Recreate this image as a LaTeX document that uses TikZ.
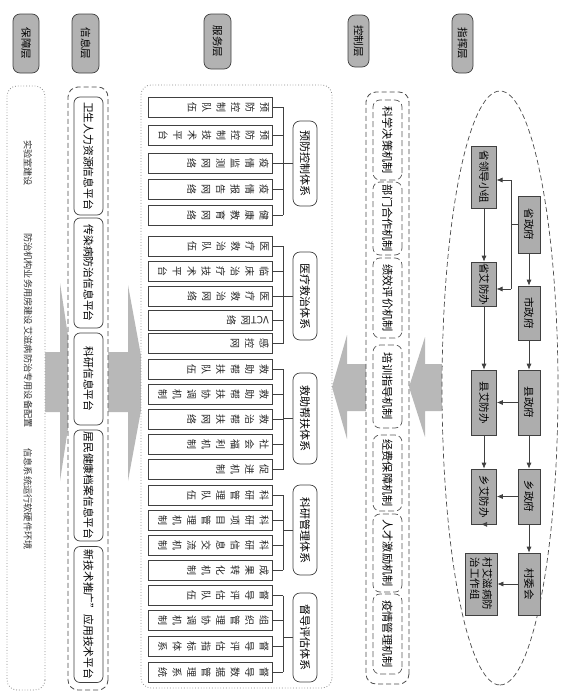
\documentclass[tikz,border=0pt]{standalone}
\usepackage{fontspec}
\setmainfont{Noto Sans CJK SC}
\usepackage{graphicx}
\usetikzlibrary{arrows.meta,shapes.geometric}
\begin{document}
\begin{tikzpicture}[x=1pt,y=1pt,
  hdr/.style={draw=black!75, fill=black!30, rounded corners=7pt, line width=0.7pt, inner sep=0pt, font=\fontsize{10.5}{12}\selectfont},
  bigarrow/.style={fill=black!28, draw=none},
  dotbox/.style={draw=black!45, dotted, line width=0.8pt, fill=white, rounded corners=10pt, inner sep=0pt},
  dashbox/.style={draw=black!70, dash pattern=on 5pt off 3pt, line width=0.8pt, fill=white, rounded corners=10pt, inner sep=0pt},
  cellipse/.style={ellipse, draw=black!70, dash pattern=on 5pt off 3pt, line width=0.7pt, fill=white, inner sep=0pt},
  gtext/.style={font=\fontsize{9.2}{11}\selectfont, text=black!80, inner sep=0pt},
  ibox/.style={draw=black!75, line width=0.7pt, rounded corners=6pt, fill=white, inner sep=0pt, minimum height=29, font=\fontsize{10.8}{12}\selectfont},
  leaf/.style={draw=black!75, line width=0.7pt, fill=white, minimum width=20, minimum height=124, inner sep=0pt},
  leaftext/.style={align=center, inner sep=0pt, font=\fontsize{10}{14.5}\selectfont, text=black!85},
  pill/.style={draw=black!75, line width=0.7pt, rounded corners=7pt, fill=white, minimum height=24, inner sep=0pt, font=\fontsize{11}{12}\selectfont},
  conn/.style={draw=black!75, line width=0.7pt},
  cbox/.style={draw=black!65, dash pattern=on 6pt off 3pt, line width=0.7pt, rounded corners=7pt, fill=white, minimum height=29, inner sep=0pt, font=\fontsize{11.2}{12}\selectfont},
  cmd/.style={draw=black!75, fill=black!32, line width=0.7pt, inner sep=1pt, font=\fontsize{10.5}{12}\selectfont},
  arr/.style={draw=black!75, line width=0.7pt, -{Latex[length=6pt,width=5pt]}},
  lin/.style={draw=black!75, line width=0.7pt}
]
\begin{scope}[rotate=-90, transform shape]
\useasboundingbox (0,0) rectangle (696,566);

% headers
\node[hdr, minimum width=59, minimum height=26] (h1) at (43.5,26) {保障层};
\node[hdr, minimum width=59, minimum height=27] (h2) at (43.5,85.5) {信息层};
\node[hdr, minimum width=55, minimum height=27] (h3) at (41.5,217.5) {服务层};
\node[hdr, minimum width=52, minimum height=21] (h4) at (41,358.5) {控制层};
\node[hdr, minimum width=59, minimum height=21] (h5) at (43.5,462.5) {指挥层};

% big arrows
\fill[bigarrow] (352,45) -- (352,60) -- (283,60) -- (382,75) -- (481,60) -- (412,60) -- (412,45) -- cycle;
\fill[bigarrow] (352,100) -- (352,128) -- (285,128) -- (383,146) -- (481,128) -- (412,128) -- (412,100) -- cycle;
\fill[bigarrow] (364,372) -- (364,347) -- (335,347) -- (387,332) -- (439,347) -- (411,347) -- (411,372) -- cycle;
\fill[bigarrow] (364,450) -- (364,425) -- (337,425) -- (387,409) -- (437,425) -- (411,425) -- (411,450) -- cycle;

% containers
\node[dotbox, minimum width=604, minimum height=38] (gb) at (388,26) {};
\node[dashbox, minimum width=603, minimum height=40] (ib) at (388.5,88) {};
\node[dotbox, minimum width=603, minimum height=191] (sb) at (386.5,236.5) {};
\node[dashbox, minimum width=592, minimum height=43] (cb) at (388,387.5) {};
\node[cellipse, minimum width=594, minimum height=116] (eb) at (388,500) {};

% guarantee layer texts
\node[gtext] (g1) at (163,28) {实验室建设};
\node[gtext] (g2) at (279,28) {防治机构业务用房建设};
\node[gtext] (g3) at (377,28) {艾滋病防治专用设备配置};
\node[gtext] (g4) at (499,28) {信息系统运行软硬件环境};

% information layer
\node[ibox, minimum width=118] (i1) at (156,88.5) {卫生人力资源信息平台};
\node[ibox, minimum width=110] (i2) at (273,88.5) {传染病防治信息平台};
\node[ibox, minimum width=92] (i3) at (379,88.5) {科研信息平台};
\node[ibox, minimum width=111] (i4) at (485.5,88.5) {居民健康档案信息平台};
\node[ibox, minimum width=136] (i5) at (614.5,88.5) {新技术推广”应用技术平台};

% service layer leaves
\foreach \n/\x/\t in {
 l1/107/{预\\防\\控\\制\\队\\伍},
 l2/135/{预\\防\\控\\制\\技\\术\\平\\台},
 l3/163/{疫\\情\\监\\测\\网\\络},
 l4/189/{疫\\情\\报\\告\\网\\络},
 l5/215/{健\\康\\教\\育\\网\\络},
 l6/246/{医\\疗\\救\\治\\队\\伍},
 l7/271/{临\\床\\治\\疗\\技\\术\\平\\台},
 l8/296/{医\\疗\\救\\治\\网\\络},
 l9/320/{\rotatebox{-90}{VCT}\\网\\络},
 l10/343.5/{感\\控\\网},
 l11/369/{救\\助\\帮\\扶\\队\\伍},
 l12/394.5/{救\\助\\帮\\扶\\协\\调\\机\\制},
 l13/419.5/{救\\治\\帮\\扶\\网\\络},
 l14/444/{社\\会\\福\\利\\机\\制},
 l15/469.5/{促\\进\\机\\制},
 l16/495/{科\\研\\管\\理\\队\\伍},
 l17/520/{科\\研\\项\\目\\管\\理\\机\\制},
 l18/545/{科\\研\\信\\息\\交\\流\\机\\制},
 l19/570/{成\\果\\转\\化\\机\\制},
 l20/595.5/{督\\导\\评\\估\\队\\伍},
 l21/620.5/{组\\织\\管\\理\\协\\调\\机\\制},
 l22/646/{督\\导\\评\\估\\指\\标\\体\\系},
 l23/672/{督\\导\\数\\据\\管\\理\\系\\统}}
{
 \node[leaf] (\n) at (\x,210) {};
 \node[leaftext, anchor=north] (\n-t) at (\x,269) {\t};
 \coordinate (\n-b) at (\x,283);
 \draw[conn] (\n.north) -- (\n-b);
}

% service categories
\node[pill, minimum width=85] (p1) at (163.5,305) {预防控制体系};
\node[pill, minimum width=88] (p2) at (296,305) {医疗救治体系};
\node[pill, minimum width=91] (p3) at (418.5,305) {救助帮扶体系};
\node[pill, minimum width=90] (p4) at (530,305) {科研管理体系};
\node[pill, minimum width=89] (p5) at (637.5,305) {督导评估体系};
\coordinate (p1-b) at (163.5,283);
\coordinate (p2-b) at (296,283);
\coordinate (p3-b) at (418.5,283);
\coordinate (p4-b) at (530,283);
\coordinate (p5-b) at (637.5,283);
\draw[conn] (p1.south) -- (p1-b);
\draw[conn] (p2.south) -- (p2-b);
\draw[conn] (p3.south) -- (p3-b);
\draw[conn] (p4.south) -- (p4-b);
\draw[conn] (p5.south) -- (p5-b);
\draw[conn] (l1-b) -- (l5-b);
\draw[conn] (l6-b) -- (l10-b);
\draw[conn] (l11-b) -- (l15-b);
\draw[conn] (l16-b) -- (l19-b);
\draw[conn] (l20-b) -- (l23-b);

% control layer
\node[cbox, minimum width=80] (c1) at (140,387.5) {科学决策机制};
\node[cbox, minimum width=73] (c2) at (218.5,387.5) {部门合作机制};
\node[cbox, minimum width=80] (c3) at (298,387.5) {绩效评价机制};
\node[cbox, minimum width=83] (c4) at (386.5,387.5) {培训指导机制};
\node[cbox, minimum width=76] (c5) at (473,387.5) {经费保障机制};
\node[cbox, minimum width=78] (c6) at (553,387.5) {人才激励机制};
\node[cbox, minimum width=80] (c7) at (634,387.5) {疫情管理机制};

% command layer
\node[cmd, minimum width=62, minimum height=25] (sl) at (177,484) {省领导小组};
\node[cmd, minimum width=57, minimum height=22] (sz) at (224.5,529) {省政府};
\node[cmd, minimum width=39, minimum height=25] (sa) at (284,484) {省艾防办};
\node[cmd, minimum width=54, minimum height=22] (mz) at (313,529) {市政府};
\node[cmd, minimum width=65, minimum height=25] (ya) at (402.5,484) {县艾防办};
\node[cmd, minimum width=65, minimum height=22] (yz) at (402.5,529) {县政府};
\node[cmd, minimum width=55, minimum height=25] (xa) at (496.5,484) {乡艾防办};
\node[cmd, minimum width=55, minimum height=22] (xz) at (496.5,529) {乡政府};
\node[cmd, minimum width=62, minimum height=32, align=left, font=\fontsize{10.5}{12.5}\selectfont] (cz) at (584,481) {村艾滋病防\\治工作组};
\node[cmd, minimum width=62, minimum height=22] (cw) at (584,529) {村委会};

\coordinate (j0) at (224.5,511);
\coordinate (j1) at (180,511);
\coordinate (j2) at (289,511);
\coordinate (e1) at (180,496.5);
\coordinate (e2) at (289,496.5);
\draw[lin] (sz.south) -- (j0);
\draw[lin] (j1) -- (j2);
\draw[arr] (j1) -- (e1);
\draw[arr] (j2) -- (e2);
\draw[arr] (sl.east) -- (sa.west);
\draw[arr] (sz.east) -- (mz.west);
\draw[arr] (sa.east) -- (ya.west);
\draw[arr] (mz.east) -- (yz.west);
\draw[arr] (yz.south) -- (ya.north);
\draw[arr] (ya.east) -- (xa.west);
\draw[arr] (yz.east) -- (xz.west);
\draw[arr] (xz.south) -- (xa.north);
\draw[arr] (xa.east) -- (xa.east |- cz.west);
\draw[arr] (xz.east) -- (cw.west);
\draw[arr] (cw.south) -- (cz.north);
\end{scope}
\end{tikzpicture}
\end{document}
